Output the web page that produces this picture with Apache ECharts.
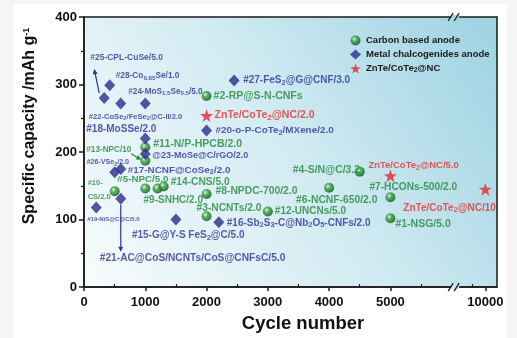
<!DOCTYPE html>
<html><head><meta charset="utf-8">
<script src="https://cdn.jsdelivr.net/npm/echarts@6/dist/echarts.min.js"></script>
<style>
html,body{margin:0;padding:0;background:#f5f5f5;width:517px;height:338px;overflow:hidden}
#c{position:absolute;left:14px;top:4px;width:493px;height:334px;background:#fff}
</style></head><body><div id="c"></div>
<script>
// ---------------- DATA ----------------
const seriesNames = ['Carbon based anode', 'Metal chalcogenides anode', 'ZnTe/CoTe_{2}@NC'];

const carbonNames = ['#2-RP@S-N-CNFs','#11-N/P-HPCB/2.0','#13-NPC/10','#10-\nCS/2.0','#5-NPC/5.0','#9-SNHC/2.0','#14-CNS/5.0','#8-NPDC-700/2.0','#3-NCNTs/2.0','#12-UNCNs/5.0','#6-NCNF-650/2.0','#4-S/N@C/3.2','#7-HCONs-500/2.0','#1-NSG/5.0'];
const carbonCycles = [2000,1000,1000,500,1000,1200,1300,2000,2000,3000,4000,4500,5000,5000];
const carbonCapacity = [283,207,187,142,146,146,149,138,105,112,147,171,133,102];

const metalNames = ['#25-CPL-CuSe/5.0','#28-Co_{0.85}Se/1.0','#24-MoS_{1.5}Se_{0.5}/5.0','#22-CoSe_{2}/FeSe_{2}@C-II/2.0','#27-FeS_{2}@G@CNF/3.0','#18-MoSSe/2.0','#20-o-P-CoTe_{2}/MXene/2.0','@23-MoSe@C/rGO/2.0','#17-NCNF@CoSe_{2}/2.0','#26-VSe_{2}/2.0','#19-NiS@C@C/5.0','#21-AC@CoS/NCNTs/CoS@CNFsC/5.0','#15-G@Y-S FeS_{2}@C/5.0','#16-Sb_{2}S_{3}-C@Nb_{2}O_{5}-CNFs/2.0'];
const metalCycles = [330,420,1000,600,2450,1000,2000,1000,600,500,200,600,1500,2200];
const metalCapacity = [280,299,272,272,306,220,232,197,175,170,118,131,100,96];

const zntNames = ['ZnTe/CoTe_{2}@NC/2.0','ZnTe/CoTe_{2}@NC/5.0','ZnTe/CoTe_{2}@NC/10'];
const zntCycles = [2000,5000,10000];
const zntCapacity = [254,165,145];

const xTickValues = [0,1000,2000,3000,4000,5000,10000];
const xMinorTickValues = [500,1500,2500,3500,4500,5500,9500];

// ---------------- LAYOUT (label placement, sizes) ----------------
const carbonLabelOffsets = [[7,0],[8,-3],[-59,-11],[-27,-1],[-28,-9],[-14,12],[7,-4],[9,-3],[-10,-8],[7,0],[-33,12],[-67,-1],[-21,-10],[5,6]];
const carbonLabelSizes = [10.5,10.5,8.2,7.5,9.8,10,10.2,10.3,10.2,10,10.3,10.4,10.2,10.5];
const metalLabelOffsets = [[-14,-40],[6,-9],[-17,-12],[-32,13],[9,0],[-59,-9],[9,0],[7,1],[7,1],[-28,-10],[-9,12],[-21,60],[-44,16],[8,1]];
const metalLabelSizes = [8.5,8.3,8.2,7.6,10,10,9.9,9,9.9,7.1,6,10.2,10,10];
const zntLabelOffsets = [[8,0],[-22,-10],[-82,19]];
const zntLabelSizes = [10.5,9.5,10];

// broken x axis: 0..5500 linear, 9500..10000 compressed after break
const BREAK_AT = 6057;
function fx(v){ return v <= 6000 ? v : 6550 + (v - 10000) * 0.42; }

const FONT = '"Liberation Sans", Arial, sans-serif';
const GREEN = '#22883a', BLUE = '#2e3196', RED = '#e8302c';
const greenBall = {type:'radial', x:0.38, y:0.35, r:0.65, colorStops:[{offset:0,color:'#e2fbe2'},{offset:0.35,color:'#3aa845'},{offset:1,color:'#0a5516'}]};
const STAR = 'path://M50,0 L61.8,35.1 L98.1,35.1 L68.8,56.7 L79.4,91.3 L50,70 L20.6,91.3 L31.2,56.7 L1.9,35.1 L38.2,35.1 Z';

function toRich(s){ return s.replace(/_\{([^}]*)\}/g, '{s|$1}'); }
function richFor(fs, color){
  const sf = Math.round(fs*0.75*10)/10;
  return { s:{ fontSize: sf, lineHeight: sf, fontWeight:'bold', color, fontFamily:FONT, verticalAlign:'bottom' } };
}

function mk(names, cycles, caps, offs, sizes, color){
  return names.map((n,i)=>({
    name: n,
    value: [fx(cycles[i]), caps[i]],
    label: {
      show: true, position: 'inside', align: 'left', verticalAlign: 'middle',
      offset: offs[i], fontSize: sizes[i], color, fontWeight: 'bold', fontFamily: FONT,
      lineHeight: n.indexOf('\n') >= 0 ? sizes[i] * 1.9 : sizes[i] * 1.2,
      formatter: toRich(n), rich: richFor(sizes[i], color)
    }
  }));
}

const chart = echarts.init(document.getElementById('c'), null, {renderer:'canvas'});
const gridOpt = {left:69, top:13, right:10, bottom:47, show:true, borderColor:'#1a1a1a', borderWidth:1.5,
  backgroundColor:{type:'linear', x:0, y:1, x2:1, y2:0, colorStops:[{offset:0,color:'#f8fcfd'},{offset:0.5,color:'#d2ebf2'},{offset:1,color:'#9dd2e2'}]}};

const option = {
  animation: false,
  grid: gridOpt,
  legend: {
    orient:'vertical', left:331, top:26, itemWidth:11, itemHeight:10, itemGap:3,
    data: seriesNames,
    formatter: n => toRich(n),
    textStyle:{fontSize:9.5, fontWeight:'bold', color:'#1a1a1a', fontFamily:FONT, lineHeight:11,
      rich:{s:{fontSize:6.5, lineHeight:6.5, fontWeight:'bold', color:'#1a1a1a', fontFamily:FONT, verticalAlign:'bottom'}}}
  },
  xAxis: [{
    type:'value', min:0, max:6740,
    name:'Cycle number', nameLocation:'middle', nameGap:24,
    nameTextStyle:{fontSize:18.5, fontWeight:'bold', color:'#111', fontFamily:FONT, padding:[0,0,0,25]},
    splitLine:{show:false},
    axisLine:{show:true, lineStyle:{color:'#1a1a1a', width:1.5}},
    axisTick:{show:true, length:4, lineStyle:{color:'#1a1a1a', width:1.5}, customValues: xTickValues.map(fx)},
    axisLabel:{fontSize:13, fontWeight:'bold', color:'#111', fontFamily:FONT, margin:9,
      customValues: xTickValues.map(fx),
      formatter: v => { const i = xTickValues.map(fx).findIndex(t => Math.abs(t - v) < 1); return i >= 0 ? String(xTickValues[i]) : ''; }}
  },{
    type:'value', min:0, max:6740, position:'bottom',
    axisLine:{show:false}, splitLine:{show:false}, axisLabel:{show:false},
    axisTick:{show:true, inside:true, length:3, lineStyle:{color:'#1a1a1a', width:1.2}, customValues: xMinorTickValues.map(fx)}
  }],
  yAxis: {
    type:'value', min:0, max:400, interval:100,
    name:'Specific capacity /mAh g{sup|-1}', nameLocation:'middle', nameGap:46,
    nameTextStyle:{fontSize:16, fontWeight:'bold', color:'#111', fontFamily:FONT, padding:[0,0,0,52],
      rich:{sup:{fontSize:9, fontWeight:'bold', color:'#111', fontFamily:FONT, verticalAlign:'top'}}},
    splitLine:{show:false},
    axisLine:{show:true, lineStyle:{color:'#1a1a1a', width:1.5}},
    axisTick:{show:true, length:5, lineStyle:{color:'#1a1a1a', width:1.5}},
    minorTick:{show:true, splitNumber:2, length:3, lineStyle:{color:'#1a1a1a', width:1.2}},
    axisLabel:{fontSize:13, fontWeight:'bold', color:'#111', fontFamily:FONT, margin:7}
  },
  series: [
    {name:seriesNames[0], type:'scatter', symbol:'circle', symbolSize:10, itemStyle:{color:greenBall},
     data: mk(carbonNames, carbonCycles, carbonCapacity, carbonLabelOffsets, carbonLabelSizes, GREEN)},
    {name:seriesNames[1], type:'scatter', symbol:'diamond', symbolSize:[11,12], itemStyle:{color:'#2a2c8c'},
     data: mk(metalNames, metalCycles, metalCapacity, metalLabelOffsets, metalLabelSizes, BLUE)},
    {name:seriesNames[2], type:'scatter', symbol:STAR, symbolSize:13, itemStyle:{color:'#e8262a'},
     data: mk(zntNames, zntCycles, zntCapacity, zntLabelOffsets, zntLabelSizes, RED)}
  ]
};
chart.setOption(option);

// decorations: axis break marks and pointer arrows
function px(x, y){ return chart.convertToPixel({gridIndex:0}, [x, y]); }
function arrow(p0, p1, color){
  const ang = Math.atan2(p1[1]-p0[1], p1[0]-p0[0]);
  const L = 5, W = 2.5;
  const bx = p1[0] - L*Math.cos(ang), by = p1[1] - L*Math.sin(ang);
  return [
    {type:'line', z:100, shape:{x1:p0[0], y1:p0[1], x2:bx, y2:by}, style:{stroke:color, lineWidth:1.2}},
    {type:'polygon', z:100, shape:{points:[[p1[0],p1[1]],[bx - W*Math.sin(ang), by + W*Math.cos(ang)],[bx + W*Math.sin(ang), by - W*Math.cos(ang)]]}, style:{fill:color}}
  ];
}
const g = [];
const bTop = px(BREAK_AT, 400), bBot = px(BREAK_AT, 0);
[bTop, bBot].forEach(p => {
  g.push({type:'rect', z:100, shape:{x:p[0]-4, y:p[1]-2, width:8, height:4}, style:{fill: p === bTop ? '#a8d7e5' : '#cfe9f0'}});
  g.push({type:'line', z:101, shape:{x1:p[0]-7, y1:p[1]+4, x2:p[0]-2, y2:p[1]-4}, style:{stroke:'#1a1a1a', lineWidth:1.3}});
  g.push({type:'line', z:101, shape:{x1:p[0]-1, y1:p[1]+4, x2:p[0]+4, y2:p[1]-4}, style:{stroke:'#1a1a1a', lineWidth:1.3}});
});
const m25 = px(fx(metalCycles[0]), metalCapacity[0]);
g.push(...arrow([m25[0]-5, m25[1]-5], [m25[0]-10, m25[1]-29], BLUE));
const c13 = px(fx(carbonCycles[2]), carbonCapacity[2]);
g.push(...arrow([c13[0]-14, c13[1]-7], [c13[0]-4, c13[1]-1], GREEN));
const m21 = px(fx(metalCycles[11]), metalCapacity[11]);
g.push(...arrow([m21[0], m21[1]+6], [m21[0], m21[1]+53], BLUE));
chart.setOption({graphic: g});
</script></body></html>
